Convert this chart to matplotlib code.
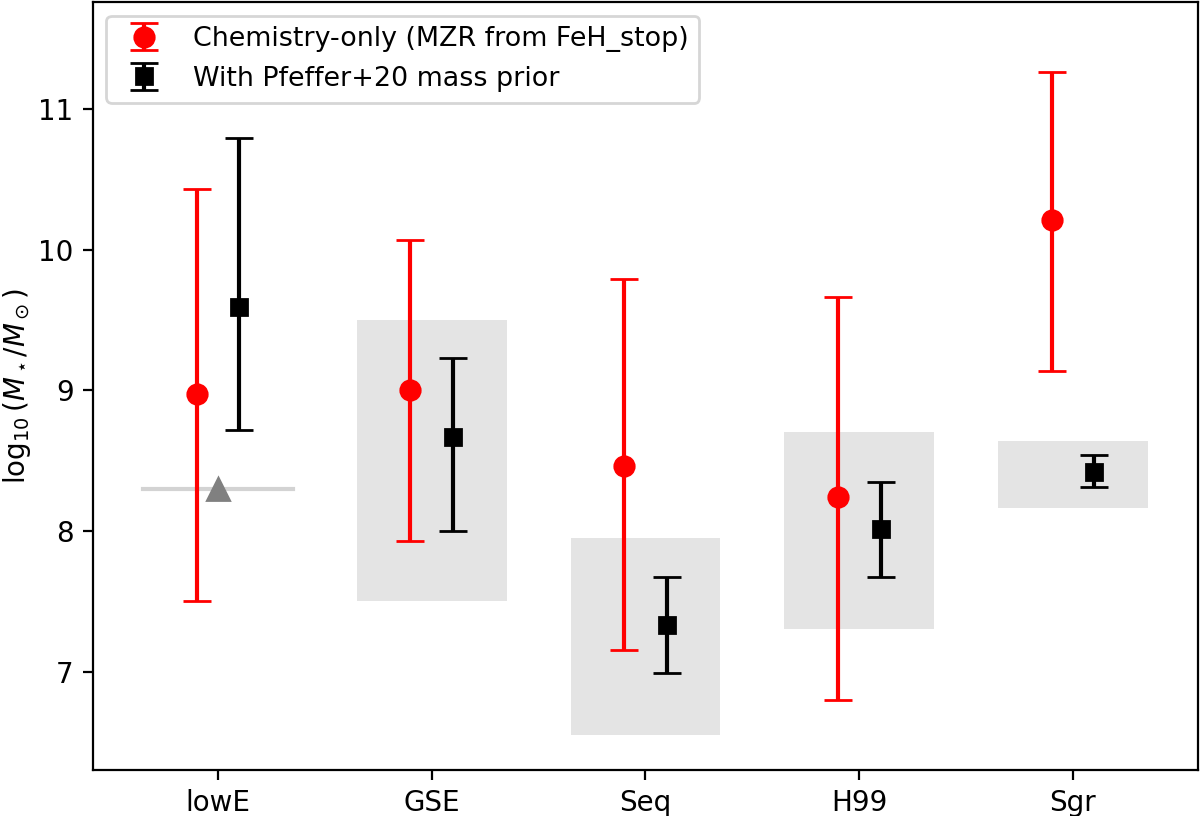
import matplotlib
matplotlib.use("Agg")
import matplotlib.pyplot as plt
import numpy as np

categories = ["lowE", "GSE", "Seq", "H99", "Sgr"]

chem_med = [8.97, 9.00, 8.46, 8.24, 10.21]
chem_hi = [10.43, 10.07, 9.79, 9.66, 11.26]
chem_lo = [7.50, 7.93, 7.15, 6.80, 9.14]

prior_med = [9.59, 8.67, 7.33, 8.01, 8.42]
prior_hi = [10.79, 9.23, 7.67, 8.35, 8.54]
prior_lo = [8.72, 8.00, 6.99, 7.67, 8.31]

# Pfeffer+20 prior ranges (boxes) for GSE, Seq, H99, Sgr
box_cats = ["GSE", "Seq", "H99", "Sgr"]
box_lo = [7.50, 6.55, 7.30, 8.16]
box_hi = [9.50, 7.95, 8.70, 8.64]

# lowE reference value (line + triangle)
lowE_ref = 8.30

fig = plt.figure(figsize=(6.0, 4.08), dpi=200)
ax = fig.add_axes([0.0775, 0.0564, 0.9208, 0.9411])

x = np.arange(len(categories))
off = 0.1
hw = 0.35

for c, lo, hi in zip(box_cats, box_lo, box_hi):
    i = categories.index(c)
    ax.fill_between([i - hw, i + hw], lo, hi, color="lightgray", alpha=0.6, lw=0, zorder=0)

ax.plot([-hw, hw], [lowE_ref, lowE_ref], color="lightgray", lw=1.5, zorder=1)
ax.plot([0], [lowE_ref], marker="^", color="gray", ms=8, ls="none", zorder=2)

chem_med = np.array(chem_med); prior_med = np.array(prior_med)
ax.errorbar(x - off, chem_med,
            yerr=[chem_med - np.array(chem_lo), np.array(chem_hi) - chem_med],
            fmt="o", color="red", ms=7, capsize=5, lw=1.5,
            label="Chemistry-only (MZR from FeH_stop)", zorder=3)
ax.errorbar(x + off, prior_med,
            yerr=[prior_med - np.array(prior_lo), np.array(prior_hi) - prior_med],
            fmt="s", color="black", ms=6, capsize=5, lw=1.5,
            label="With Pfeffer+20 mass prior", zorder=3)

ax.set_xticks(x)
ax.set_xticklabels(categories)
ax.set_xlim(-0.585, 4.585)
ax.set_ylim(6.30, 11.76)
ax.set_yticks([7, 8, 9, 10, 11])
ax.set_ylabel(r"$\log_{10}(M_\star/M_\odot)$", labelpad=2)
ax.legend(loc="upper left", prop={"size": 9.7})

fig.savefig("out.png", dpi=200)
